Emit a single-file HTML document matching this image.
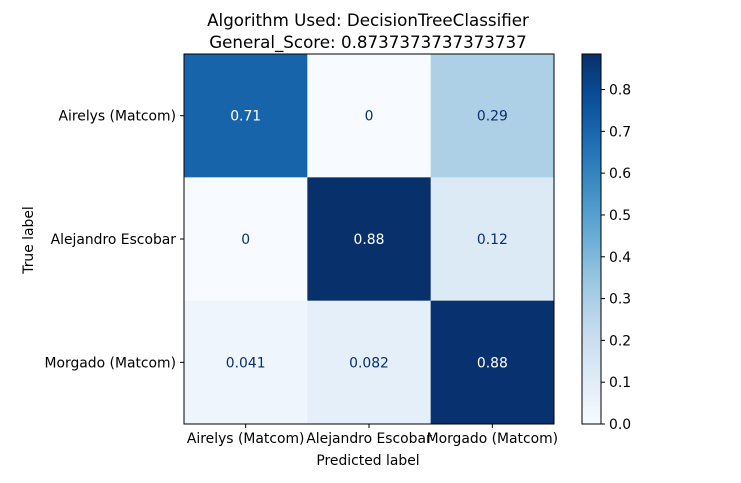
<!DOCTYPE html>
<html><head><meta charset="utf-8"><style>
body{margin:0;background:#fff;}
svg text{font-family:"DejaVu Sans","Liberation Sans",sans-serif;}
</style></head><body>
<svg id="c" width="741" height="478" xmlns="http://www.w3.org/2000/svg">
<text x="368" y="26" font-size="16.7" text-anchor="middle">Algorithm Used: DecisionTreeClassifier</text>
<text x="368" y="48" font-size="16.7" text-anchor="middle">General_Score: 0.8737373737373737</text>
<g id="cells"></g>
<text x="368" y="465" font-size="13.9" text-anchor="middle">Predicted label</text>
<text transform="translate(33,240) rotate(-90)" font-size="13.9" text-anchor="middle">True label</text>
</svg>
<script>
const classes=["Airelys (Matcom)","Alejandro Escobar","Morgado (Matcom)"];
const row0=[0.71,0,0.29];
const row1=[0,0.885,0.12];
const row2=[0.041,0.082,0.877];
const labels0=["0.71","0","0.29"];
const labels1=["0","0.88","0.12"];
const labels2=["0.041","0.082","0.88"];
const cbTicks=[0,0.1,0.2,0.3,0.4,0.5,0.6,0.7,0.8];
const rows=[row0,row1,row2], lbls=[labels0,labels1,labels2];
const X0=184,X1=554,Y0=54,Y1=424;
const all=rows.flat(); const vmin=Math.min(...all), vmax=Math.max(...all);
const stops=["#f7fbff","#deebf7","#c6dbef","#9ecae1","#6baed6","#4292c6","#2171b5","#08519c","#08306b"].map(h=>[1,3,5].map(i=>parseInt(h.substr(i,2),16)));
function cmap(t){t=Math.max(0,Math.min(1,t));const p=t*8,i=Math.min(7,Math.floor(p)),f=p-i;const a=stops[i],b=stops[i+1];return `rgb(${a.map((v,k)=>Math.round(v+(b[k]-v)*f)).join(',')})`;}
const NS="http://www.w3.org/2000/svg",svg=document.getElementById('c'),g=document.getElementById('cells');
function mk(t,at,p){const e=document.createElementNS(NS,t);for(const k in at)e.setAttribute(k,at[k]);(p||g).appendChild(e);return e;}
const n=classes.length,cw=(X1-X0)/n,ch=(Y1-Y0)/n;
rows.forEach((r,i)=>r.forEach((v,j)=>{
 const rc=mk('rect',{x:X0+j*cw,y:Y0+i*ch,width:cw+0.5,height:ch+0.5,fill:cmap((v-vmin)/(vmax-vmin))});
 
 
 const tx=mk('text',{x:X0+(j+.5)*cw,y:Y0+(i+.5)*ch+5,'font-size':13.9,'text-anchor':'middle',fill:v>=(vmax+vmin)/2?'#fff':'#08306b'});
 tx.textContent=lbls[i][j];
 
 
}));
const fr=mk('rect',{x:X0,y:Y0,width:X1-X0,height:Y1-Y0,fill:'none',stroke:'#000','stroke-width':1});


classes.forEach((c,k)=>{
 const cx=X0+(k+.5)*cw, cy=Y0+(k+.5)*ch;
 mk('line',{x1:cx,x2:cx,y1:Y1,y2:Y1+4,stroke:'#000'});
 const xt=mk('text',{x:cx,y:Y1+19,'font-size':13.9,'text-anchor':'middle'});xt.textContent=c;
 
 
 mk('line',{x1:X0-4,x2:X0,y1:cy,y2:cy,stroke:'#000'});
 const yt=mk('text',{x:X0-8,y:cy+5,'font-size':13.9,'text-anchor':'end'});yt.textContent=c;
 
 
});
const CX0=582,CX1=601;
const defs=mk('defs',{},svg);const lg=mk('linearGradient',{id:'gr',x1:0,y1:1,x2:0,y2:0},defs);
for(let s=0;s<=20;s++){mk('stop',{offset:s/20,'stop-color':cmap(s/20)},lg);}
const cb=mk('rect',{x:CX0,y:Y0,width:CX1-CX0,height:Y1-Y0,fill:'url(#gr)',stroke:'#000'});


cbTicks.forEach(t=>{
 const y=Y1-(t-vmin)/(vmax-vmin)*(Y1-Y0);
 mk('line',{x1:CX1,x2:CX1+4,y1:y,y2:y,stroke:'#000'});
 const tt=mk('text',{x:CX1+8,y:y+5,'font-size':13.9});tt.textContent=t.toFixed(1);
 
 
});
</script>
</body></html>
